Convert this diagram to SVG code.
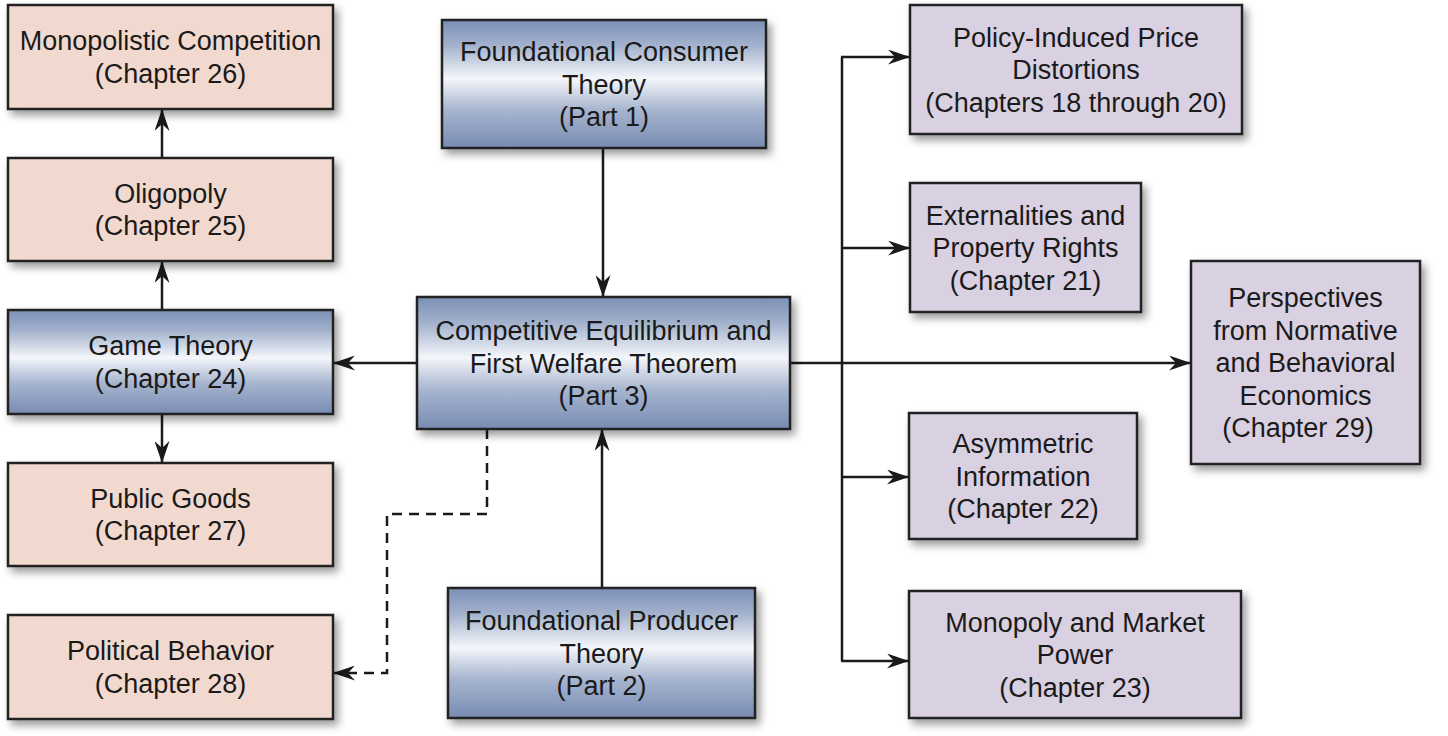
<svg xmlns="http://www.w3.org/2000/svg" width="1448" height="736" viewBox="0 0 1448 736">
  <defs>
    <linearGradient id="blueGrad" x1="0" y1="0" x2="0" y2="1">
      <stop offset="0" stop-color="#7b8fb6"/>
      <stop offset="0.2" stop-color="#a3b2cd"/>
      <stop offset="0.46" stop-color="#f4f6fa"/>
      <stop offset="0.7" stop-color="#a7b5cf"/>
      <stop offset="1" stop-color="#788bb2"/>
    </linearGradient>
    <filter id="shadow" x="-10%" y="-10%" width="125%" height="130%">
      <feDropShadow dx="4" dy="5" stdDeviation="4" flood-color="#000" flood-opacity="0.4"/>
    </filter>
    <marker id="arrow" viewBox="0 0 22 15" refX="22" refY="7.5" markerWidth="22" markerHeight="15" markerUnits="userSpaceOnUse" orient="auto">
      <path d="M0,0 L22,7.5 L0,15 L7,7.5 Z" fill="#1a1a1a"/>
    </marker>
  </defs>
  <style>
    .box { stroke: #222; stroke-width: 2.5; filter: url(#shadow); }
    .pink { fill: #f2d9cf; }
    .purple { fill: #d9d0e1; }
    .blue { fill: url(#blueGrad); }
    .lbl { font-family: "Liberation Sans", Arial, sans-serif; font-size: 27px; fill: #1a1a1a; text-anchor: middle; }
    .conn { fill: none; stroke: #1a1a1a; stroke-width: 2.5; }
    .dash { stroke-dasharray: 10 7; }
  </style>
  <rect width="1448" height="736" fill="#ffffff"/>

  <g id="connectors">
    <path class="conn" d="M603,148 V297" marker-end="url(#arrow)"/>
    <path class="conn" d="M602,588 V429" marker-end="url(#arrow)"/>
    <path class="conn" d="M417,363 H333" marker-end="url(#arrow)"/>
    <path class="conn" d="M162,310 V261" marker-end="url(#arrow)"/>
    <path class="conn" d="M162,158 V109" marker-end="url(#arrow)"/>
    <path class="conn" d="M162,414 V463" marker-end="url(#arrow)"/>
    <path class="conn dash" d="M487,429 V514 H387 V673 H333" marker-end="url(#arrow)"/>
    <path class="conn" d="M790,363 H1191" marker-end="url(#arrow)"/>
    <path class="conn" d="M842,57 V661"/>
    <path class="conn" d="M841,57 H910" marker-end="url(#arrow)"/>
    <path class="conn" d="M842,248 H910" marker-end="url(#arrow)"/>
    <path class="conn" d="M842,477 H909" marker-end="url(#arrow)"/>
    <path class="conn" d="M841,661 H909" marker-end="url(#arrow)"/>
  </g>

  <g id="monopolistic-competition">
    <rect class="box pink" x="8" y="5" width="325" height="104"/>
    <text class="lbl" x="170.5" y="50">Monopolistic Competition</text>
    <text class="lbl" x="170.5" y="83">(Chapter 26)</text>
  </g>
  <g id="oligopoly">
    <rect class="box pink" x="8" y="158" width="325" height="103"/>
    <text class="lbl" x="170.5" y="203">Oligopoly</text>
    <text class="lbl" x="170.5" y="235">(Chapter 25)</text>
  </g>
  <g id="game-theory">
    <rect class="box blue" x="8" y="310" width="325" height="104"/>
    <text class="lbl" x="170.5" y="355">Game Theory</text>
    <text class="lbl" x="170.5" y="388">(Chapter 24)</text>
  </g>
  <g id="public-goods">
    <rect class="box pink" x="8" y="463" width="325" height="103"/>
    <text class="lbl" x="170.5" y="508">Public Goods</text>
    <text class="lbl" x="170.5" y="540">(Chapter 27)</text>
  </g>
  <g id="political-behavior">
    <rect class="box pink" x="8" y="615" width="325" height="104"/>
    <text class="lbl" x="170.5" y="660">Political Behavior</text>
    <text class="lbl" x="170.5" y="693">(Chapter 28)</text>
  </g>

  <g id="consumer-theory">
    <rect class="box blue" x="442" y="20" width="324" height="128"/>
    <text class="lbl" x="604" y="61">Foundational Consumer</text>
    <text class="lbl" x="604" y="93.5">Theory</text>
    <text class="lbl" x="604" y="126">(Part 1)</text>
  </g>
  <g id="competitive-equilibrium">
    <rect class="box blue" x="417" y="297" width="373" height="132"/>
    <text class="lbl" x="603.5" y="340">Competitive Equilibrium and</text>
    <text class="lbl" x="603.5" y="372.5">First Welfare Theorem</text>
    <text class="lbl" x="603.5" y="405">(Part 3)</text>
  </g>
  <g id="producer-theory">
    <rect class="box blue" x="448" y="588" width="307" height="130"/>
    <text class="lbl" x="601.5" y="630">Foundational Producer</text>
    <text class="lbl" x="601.5" y="662.5">Theory</text>
    <text class="lbl" x="601.5" y="695">(Part 2)</text>
  </g>

  <g id="price-distortions">
    <rect class="box purple" x="910" y="5" width="332" height="129"/>
    <text class="lbl" x="1076" y="46.5">Policy-Induced Price</text>
    <text class="lbl" x="1076" y="79">Distortions</text>
    <text class="lbl" x="1076" y="111.5">(Chapters 18 through 20)</text>
  </g>
  <g id="externalities">
    <rect class="box purple" x="910" y="183" width="231" height="129"/>
    <text class="lbl" x="1025.5" y="224.5">Externalities and</text>
    <text class="lbl" x="1025.5" y="257">Property Rights</text>
    <text class="lbl" x="1025.5" y="289.5">(Chapter 21)</text>
  </g>
  <g id="perspectives">
    <rect class="box purple" x="1191" y="261" width="229" height="203"/>
    <text class="lbl" x="1305.5" y="307">Perspectives</text>
    <text class="lbl" x="1305.5" y="339.5">from Normative</text>
    <text class="lbl" x="1305.5" y="372">and Behavioral</text>
    <text class="lbl" x="1305.5" y="404.5">Economics</text>
    <text class="lbl" x="1298" y="437">(Chapter 29)</text>
  </g>
  <g id="asymmetric-information">
    <rect class="box purple" x="909" y="413" width="228" height="126"/>
    <text class="lbl" x="1023" y="453">Asymmetric</text>
    <text class="lbl" x="1023" y="485.5">Information</text>
    <text class="lbl" x="1023" y="518">(Chapter 22)</text>
  </g>
  <g id="monopoly">
    <rect class="box purple" x="909" y="591" width="332" height="127"/>
    <text class="lbl" x="1075" y="631.5">Monopoly and Market</text>
    <text class="lbl" x="1075" y="664">Power</text>
    <text class="lbl" x="1075" y="696.5">(Chapter 23)</text>
  </g>
</svg>
